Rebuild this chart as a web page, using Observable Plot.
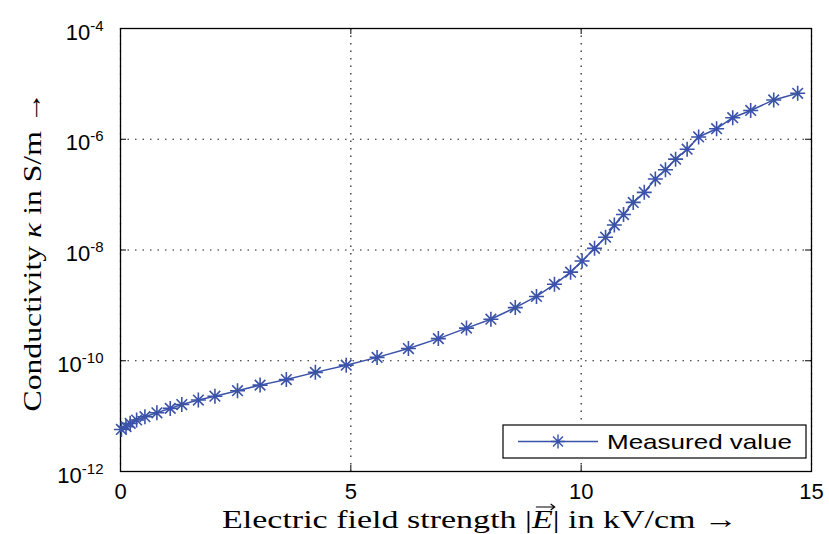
<!DOCTYPE html>
<html><head><meta charset="utf-8">
<script src="https://cdn.jsdelivr.net/npm/d3@7"></script>
<script src="https://cdn.jsdelivr.net/npm/@observablehq/plot@0.6"></script>
<style>body{margin:0;background:#fff}</style>
</head><body><div id="chart"></div>
<script>
// Electric field strength |E| in kV/cm
const fieldStrength = [0.02, 0.12, 0.21, 0.35, 0.53, 0.79, 1.08, 1.33, 1.69, 2.05, 2.54, 3.03, 3.60, 4.23, 4.90, 5.57, 6.25, 6.90, 7.51, 8.04, 8.57, 9.03, 9.42, 9.77, 10.02, 10.29, 10.53, 10.72, 10.92, 11.13, 11.37, 11.61, 11.83, 12.05, 12.30, 12.55, 12.94, 13.29, 13.68, 14.18, 14.70];
// Conductivity kappa in S/m
const conductivity = [5.75e-12, 6.46e-12, 7.41e-12, 8.51e-12, 9.77e-12, 1.15e-11, 1.38e-11, 1.62e-11, 1.95e-11, 2.29e-11, 2.88e-11, 3.63e-11, 4.57e-11, 6.17e-11, 8.32e-11, 1.15e-10, 1.66e-10, 2.51e-10, 3.89e-10, 5.62e-10, 9.12e-10, 1.45e-9, 2.40e-9, 3.98e-9, 6.31e-9, 1.07e-8, 1.70e-8, 2.82e-8, 4.37e-8, 7.24e-8, 1.10e-7, 1.91e-7, 2.82e-7, 4.37e-7, 6.61e-7, 1.10e-6, 1.55e-6, 2.45e-6, 3.31e-6, 5.13e-6, 6.76e-6];
const xTicks = [0, 5, 10, 15];
const yTicks = [1e-12, 1e-10, 1e-8, 1e-6, 1e-4];
const seriesName = "Measured value";
const xLabel = "Electric field strength";
const yLabel = "Conductivity";

const color = "#3a52a8";
const data = fieldStrength.map((e, i) => ({E: e, k: conductivity[i]}));
const W = 829, H = 534, mL = 120, mR = 18, mT = 28, mB = 63;
const fw = W - mL - mR, fh = H - mT - mB;

const asterisk = {
  draw(ctx, size) {
    const r = Math.sqrt(size / Math.PI);
    for (const a of [0, 45, 90, 135]) {
      const t = a * Math.PI / 180;
      ctx.moveTo(-r * Math.cos(t), -r * Math.sin(t));
      ctx.lineTo(r * Math.cos(t), r * Math.sin(t));
    }
  }
};

const svg = Plot.plot({
  width: W, height: H, marginLeft: mL, marginRight: mR, marginTop: mT, marginBottom: mB,
  style: {fontFamily: "'Liberation Sans', Arial, sans-serif", fontSize: "19px", color: "#000", background: "#fff"},
  x: {domain: [0, 15]},
  y: {type: "log", domain: [1e-12, 1e-4]},
  marks: [
    Plot.gridX(xTicks, {stroke: "#000", strokeOpacity: 0.9, strokeWidth: 1.2, strokeDasharray: "1.5,6"}),
    Plot.gridY(yTicks, {stroke: "#000", strokeOpacity: 0.9, strokeWidth: 1.2, strokeDasharray: "1.5,6"}),
    Plot.tickX(xTicks, {x: d => d, insetTop: fh - 6, stroke: "#000"}),
    Plot.tickX(xTicks, {x: d => d, insetBottom: fh - 6, stroke: "#000"}),
    Plot.tickY(yTicks, {y: d => d, insetRight: fw - 6, stroke: "#000"}),
    Plot.tickY(yTicks, {y: d => d, insetLeft: fw - 6, stroke: "#000"}),
    Plot.frame({stroke: "#000", strokeWidth: 1.3}),
    Plot.axisX(xTicks, {tickSize: 0, tickPadding: 12, fontSize: 22, label: null}),
    Plot.axisY(yTicks, {tickSize: 0, tickPadding: 17, fontSize: 22, dy: 4, tickFormat: () => "10", label: null}),
    Plot.line(data, {x: "E", y: "k", stroke: color, strokeWidth: 1.5}),
    Plot.dot(data, {x: "E", y: "k", symbol: asterisk, r: 7.5, stroke: color, strokeWidth: 1.6})
  ]
});
document.getElementById("chart").append(svg);

const s = d3.select(svg);
// superscript exponents on y tick labels
s.selectAll('[aria-label="y-axis tick label"] text').each(function(_, i) {
  const t = d3.select(this);
  t.append("tspan").attr("dy", "-0.6em").attr("font-size", 15).text(String(Math.round(Math.log10(yTicks[i]))));
});

// axis titles
const serif = "'Liberation Serif', 'Times New Roman', serif";
const xBase = H - 6;
const xt = s.append("text").attr("x", 480).attr("y", xBase)
  .attr("text-anchor", "middle").attr("font-family", serif).attr("font-size", 26).attr("fill", "#000")
  .attr("textLength", 516).attr("lengthAdjust", "spacingAndGlyphs");
xt.append("tspan").text(xLabel + " |");
xt.append("tspan").attr("font-style", "italic").text("E");
xt.append("tspan").text("| in kV/cm \u2192");
// vector arrow above the italic E
{
  const idx = xLabel.length + 2;
  const node = xt.node();
  let x0 = 545, x1 = 561;
  try {
    x0 = node.getStartPositionOfChar(idx).x;
    x1 = node.getEndPositionOfChar(idx).x;
  } catch (e) {}
  const ay = xBase - 21, ax0 = x0 + 4, ax1 = x1 + 2;
  s.append("path")
    .attr("d", `M${ax0},${ay}H${ax1}M${ax1 - 4},${ay - 3}L${ax1},${ay}L${ax1 - 4},${ay + 3}`)
    .attr("fill", "none").attr("stroke", "#000").attr("stroke-width", 1.2);
}

const yt = s.append("text").attr("transform", `translate(41,${mT + fh / 2 + 2}) rotate(-90)`)
  .attr("text-anchor", "middle").attr("font-family", serif).attr("font-size", 26).attr("fill", "#000")
  .attr("textLength", 320).attr("lengthAdjust", "spacingAndGlyphs");
yt.append("tspan").text(yLabel + " ");
yt.append("tspan").attr("font-style", "italic").text("\u03BA");
yt.append("tspan").text(" in S/m \u2192");

// legend
const lx = 503, ly = H - mB - 46, lw = W - mR - 5 - 503, lh = 33;
const lg = s.append("g");
lg.append("rect").attr("x", lx).attr("y", ly).attr("width", lw).attr("height", lh)
  .attr("fill", "#fff").attr("stroke", "#000").attr("stroke-width", 1.2);
lg.append("line").attr("x1", lx + 15).attr("x2", lx + 95).attr("y1", ly + lh / 2).attr("y2", ly + lh / 2)
  .attr("stroke", color).attr("stroke-width", 1.3);
lg.append("path").attr("transform", `translate(${lx + 55},${ly + lh / 2})`)
  .attr("d", d3.symbol(asterisk, 49 * Math.PI)()).attr("stroke", color).attr("stroke-width", 1.4).attr("fill", "none");
lg.append("text").attr("x", lx + 104).attr("y", ly + lh / 2).attr("dy", "0.36em").attr("text-anchor", "start")
  .attr("font-family", "'Liberation Sans', Arial, sans-serif").attr("font-size", 21).attr("fill", "#000")
  .attr("textLength", 185).attr("lengthAdjust", "spacingAndGlyphs").text(seriesName);
</script>
</body></html>
